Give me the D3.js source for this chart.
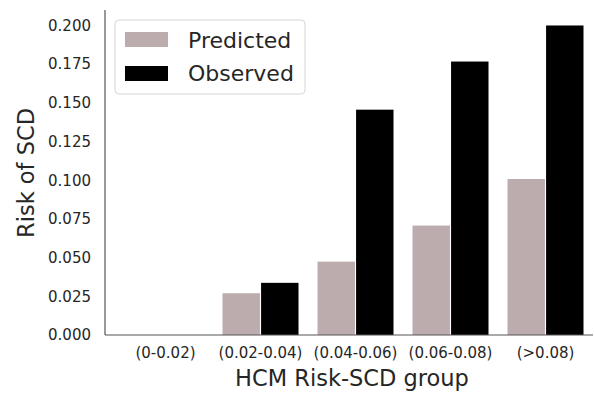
<!DOCTYPE html>
<html><head><meta charset="utf-8">
<script src="https://cdn.jsdelivr.net/npm/d3@7"></script>
<style>body{margin:0;background:#fff}svg{display:block;font-family:"DejaVu Sans",sans-serif}</style>
</head><body><svg id="c" width="594" height="394"></svg>
<script>
const categories = ["(0-0.02)", "(0.02-0.04)", "(0.04-0.06)", "(0.06-0.08)", "(>0.08)"];
const seriesNames = ["Predicted", "Observed"];
const predicted = [0, 0.027, 0.0474, 0.0707, 0.1008];
const observed = [0, 0.0337, 0.1456, 0.1767, 0.2];
const yTicks = [0, 0.025, 0.05, 0.075, 0.1, 0.125, 0.15, 0.175, 0.2];
const colors = ["#bcacae", "#000000"];

(function () {
const svg = d3.select("#c");
const mLeft = 105, mRight = 593, mTop = 10, mBottom = 335;
const x = d3.scaleBand().domain(categories).range([118, 593]).paddingInner(0.2).paddingOuter(0.1);
const xs = d3.scaleBand().domain(seriesNames).range([0, x.bandwidth()]).paddingInner(0.03);
const y = d3.scaleLinear().domain([0, 0.21]).range([mBottom, mTop]);
const txt = "#262626";

const data = categories.map((c, i) => ({c, vals: [predicted[i], observed[i]]}));
const g = svg.append("g");
data.forEach(d => {
  d.vals.forEach((v, j) => {
    g.append("rect")
      .attr("x", x(d.c) + xs(seriesNames[j]))
      .attr("width", xs.bandwidth())
      .attr("y", y(v))
      .attr("height", mBottom - y(v))
      .attr("fill", colors[j]);
  });
});

const ya = svg.append("g").attr("transform", `translate(${mLeft},0)`)
  .call(d3.axisLeft(y).tickValues(yTicks).tickFormat(d3.format(".3f")).tickSize(0).tickPadding(14));
ya.attr("font-size", 15).attr("font-family", "DejaVu Sans");
ya.select(".domain").attr("stroke", "#555").attr("stroke-width", 1.2).attr("d", `M0,${mTop}V${mBottom}`);
ya.selectAll("text").attr("font-size", 15).attr("fill", txt);

const xa = svg.append("g").attr("transform", `translate(0,${mBottom})`)
  .call(d3.axisBottom(x).tickSize(0).tickPadding(12));
xa.attr("font-size", 15).attr("font-family", "DejaVu Sans");
xa.select(".domain").attr("stroke", "#555").attr("stroke-width", 1.2).attr("d", `M${mLeft},0H${mRight}`);
xa.selectAll("text").attr("font-size", 15).attr("fill", txt);

svg.append("text").attr("x", 352).attr("y", 386).attr("text-anchor", "middle")
  .attr("font-size", 22.5).attr("fill", txt).text("HCM Risk-SCD group");
svg.append("text").attr("transform", `translate(34,173) rotate(-90)`).attr("text-anchor", "middle")
  .attr("font-size", 22.5).attr("fill", txt).text("Risk of SCD");

const lg = svg.append("g");
lg.append("rect").attr("x", 115).attr("y", 20).attr("width", 190).attr("height", 74).attr("rx", 4)
  .attr("fill", "#fff").attr("fill-opacity", 0.8).attr("stroke", "#d6d6d6");
seriesNames.forEach((s, i) => {
  lg.append("rect").attr("x", 125).attr("y", 32 + i * 34).attr("width", 43).attr("height", 15).attr("fill", colors[i]);
  lg.append("text").attr("x", 188).attr("y", 48 + i * 33).attr("font-size", 22).attr("fill", txt).text(s);
});
})();
</script></body></html>
